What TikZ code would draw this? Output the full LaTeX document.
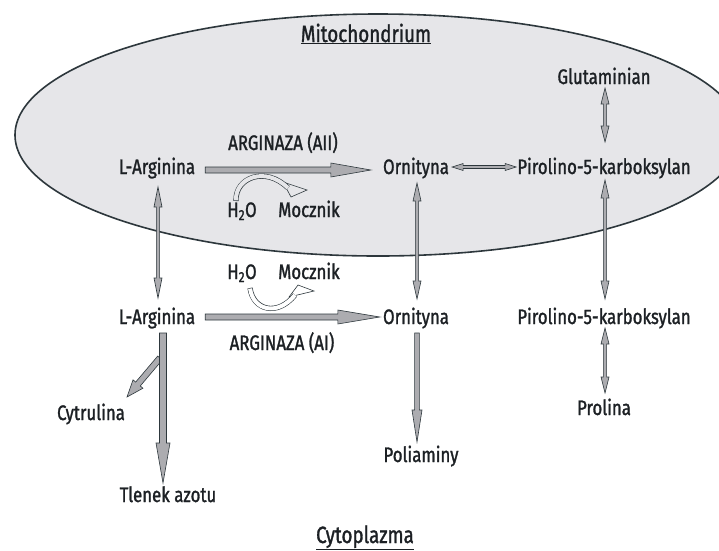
\documentclass[tikz,border=0pt]{standalone}
\usepackage{fontspec}
\setmainfont{Fira Sans}[FakeStretch=0.8, FakeBold=1.3]
\usetikzlibrary{calc}
\definecolor{mitofill}{RGB}{230,230,233}
\definecolor{txt}{RGB}{28,32,36}
\definecolor{outl}{RGB}{45,55,60}
\definecolor{arrfill}{RGB}{172,172,176}
\tikzset{
  lbl/.style={inner sep=0pt, anchor=base, text=txt, font=\fontsize{21}{24}\selectfont},
  head/.style={inner sep=0pt, anchor=base, text=txt, font=\fontsize{23.5}{27}\selectfont},
  arrbody/.style={draw=outl, fill=arrfill, line width=0.6pt, line join=miter},
  bandout/.style={draw=outl, line width=5.2pt, line cap=butt},
  headtri/.style={draw=outl, line width=0.6pt},
}
% fat single arrow: start, end, shaft half width, head half width, head length
\newcommand\fatarrow[5]{%
  \coordinate (fa-s) at #1;
  \coordinate (fa-e) at #2;
  \coordinate (fa-h) at ($(fa-e)!#5!(fa-s)$);
  \filldraw[arrbody] ($(fa-s)!#3!90:(fa-e)$) -- ($(fa-h)!#3!-90:(fa-s)$) -- ($(fa-h)!#4!-90:(fa-s)$) -- (fa-e) -- ($(fa-h)!#4!90:(fa-s)$) -- ($(fa-h)!#3!90:(fa-s)$) -- ($(fa-s)!#3!-90:(fa-e)$) -- cycle;
}
% double-headed arrow
\newcommand\dblarrow[5]{%
  \coordinate (da-s) at #1;
  \coordinate (da-e) at #2;
  \coordinate (da-h1) at ($(da-s)!#5!(da-e)$);
  \coordinate (da-h2) at ($(da-e)!#5!(da-s)$);
  \filldraw[arrbody] (da-s) -- ($(da-h1)!#4!90:(da-e)$) -- ($(da-h1)!#3!90:(da-e)$) -- ($(da-h2)!#3!-90:(da-s)$) -- ($(da-h2)!#4!-90:(da-s)$) -- (da-e) -- ($(da-h2)!#4!90:(da-s)$) -- ($(da-h2)!#3!90:(da-s)$) -- ($(da-h1)!#3!-90:(da-e)$) -- ($(da-h1)!#4!-90:(da-e)$) -- cycle;
}
\begin{document}
\begin{tikzpicture}[x=1pt,y=-1pt]
\useasboundingbox (0,0) rectangle (719,550);
\fill[white] (0,0) rectangle (719,550);
\begin{scope}
  \clip (0,0) rectangle (719,550);
  \filldraw[fill=mitofill, draw=outl, line width=1.6pt] (378,135) ellipse [x radius=363, y radius=121];
\end{scope}

% labels
\node[head] (mito) at (366,42) {\underline{Mitochondrium}};
\node[lbl] (glu) at (604,84) {Glutaminian};
\node[lbl] (la1) at (157,174) {L-Arginina};
\node[lbl] (arg2) at (283,150) {ARGINAZA (AII)};
\node[lbl] (or1) at (416,174) {Ornityna};
\node[lbl] (p5c1) at (604,174) {Pirolino-5-karboksylan};
\node[lbl] (h2o1) at (242,217) {H\textsubscript{2}O};
\node[lbl] (moc1) at (309,217) {Mocznik};
\node[lbl] (h2o2) at (242,279) {H\textsubscript{2}O};
\node[lbl] (moc2) at (309,279) {Mocznik};
\node[lbl] (la2) at (157,324) {L-Arginina};
\node[lbl] (arg1) at (282,350) {ARGINAZA (AI)};
\node[lbl] (or2) at (416,324) {Ornityna};
\node[lbl] (p5c2) at (604,324) {Pirolino-5-karboksylan};
\node[lbl] (pro) at (604,415) {Prolina};
\node[lbl] (cyt) at (91,420) {Cytrulina};
\node[lbl] (pol) at (421,462) {Poliaminy};
\node[lbl] (no) at (168,502) {Tlenek azotu};
\node[head] (cyto) at (365,543) {\underline{Cytoplazma}};

% main reaction arrows
\fatarrow{($(la1.base east)+(10,-4)$)}{($(or1.base west)+(-12,-4)$)}{3pt}{7pt}{40pt}
\fatarrow{($(la2.base east)+(10,-7)$)}{($(or2.base west)+(-3,-7)$)}{3pt}{7pt}{42pt}

% double arrows
\dblarrow{($(or1.base east)+(3,-7)$)}{($(p5c1.base west)+(-1,-7)$)}{1.5pt}{3.5pt}{11pt}
\dblarrow{($(glu.base)+(1,4)$)}{($(p5c1.base)+(1,-32)$)}{1.6pt}{4pt}{16pt}
\dblarrow{($(p5c1.base)+(1,6)$)}{($(p5c2.base)+(1,-25)$)}{1.6pt}{4pt}{18pt}
\dblarrow{($(p5c2.base)+(1,4)$)}{($(pro.base)+(1,-22)$)}{1.6pt}{4pt}{16pt}
\dblarrow{($(or1.base)+(1,9)$)}{($(or2.base)+(1,-25)$)}{1.6pt}{4pt}{18pt}
\dblarrow{($(la1.base)+(1,13)$)}{($(la2.base)+(1,-26)$)}{1.6pt}{4pt}{20pt}

% products
\fatarrow{($(or2.base)+(1,9)$)}{($(or2.base |- pol.base)+(1,-20)$)}{2.4pt}{5pt}{32pt}
\fatarrow{($(la2.base)+(3,34)$)}{($(cyt.base)+(36,-23)$)}{3pt}{6.5pt}{17pt}
\fatarrow{($(la2.base)+(6,9)$)}{($(la2.base |- no.base)+(6,-19)$)}{3.5pt}{7pt}{40pt}

% curved arrow (mitochondrium)
\coordinate (c1s) at ($(h2o1.base)+(-6,-16)$);
\coordinate (c1e) at ($(moc1.base)+(-21,-29)$);
\filldraw[headtri, fill=mitofill] ($(c1e)+(-5,-6)$) -- ($(c1e)+(19,2)$) -- ($(c1e)+(3,9)$) -- cycle;
\draw[bandout] (c1s) .. controls ($(c1s)+(-1,-24)$) and ($(c1e)+(-22,-22)$) .. (c1e);
\draw[mitofill, line width=4pt, shorten <=0.6pt] (c1s) .. controls ($(c1s)+(-1,-24)$) and ($(c1e)+(-22,-22)$) .. (c1e);

% curved arrow (cytoplasm)
\coordinate (c2s) at ($(h2o2.base)+(8,9)$);
\coordinate (c2e) at ($(moc2.base)+(-14,16)$);
\filldraw[headtri, fill=white] ($(c2e)+(-6,2)$) -- ($(c2e)+(19,-4)$) -- ($(c2e)+(3,-10)$) -- cycle;
\draw[bandout] (c2s) .. controls ($(c2s)+(3,22)$) and ($(c2e)+(-18,22)$) .. (c2e);
\draw[white, line width=4pt, shorten <=0.6pt] (c2s) .. controls ($(c2s)+(3,22)$) and ($(c2e)+(-18,22)$) .. (c2e);
\end{tikzpicture}
\end{document}
